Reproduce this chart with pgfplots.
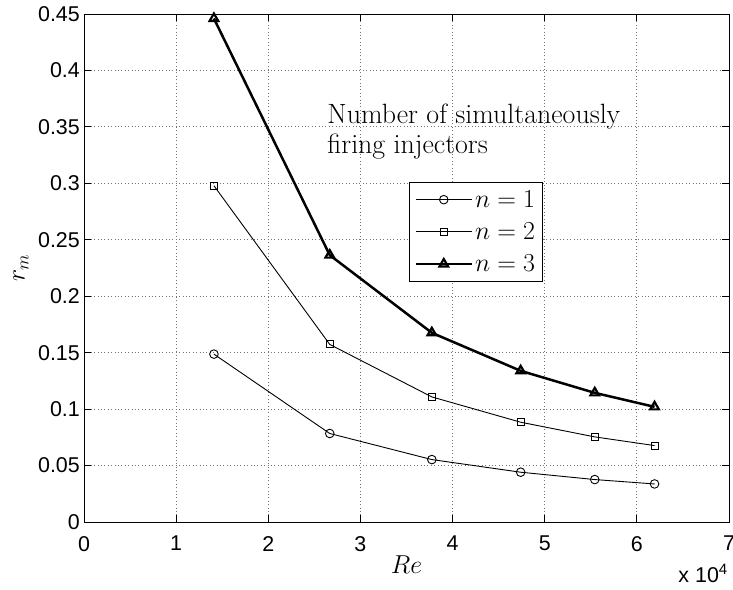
\RequirePackage{fix-cm}
\documentclass[border=0pt]{standalone}
\usepackage{fontspec}
\usepackage{pgfplots}
\pgfplotsset{compat=1.18}
\newfontfamily\hel{Liberation Sans}
\begin{document}
\begin{tikzpicture}
\useasboundingbox (-84bp,-68bp) rectangle (649bp,522bp);
\begin{axis}[
 scale only axis, width=645bp, height=508bp,
 at={(0,0)}, anchor=south west,
 clip=false,
 xmin=0,xmax=7,ymin=0,ymax=0.45,
 xtick={0,1,2,3,4,5,6,7}, xticklabels={0,1,2,3,4,5,6,7},
 ytick={0,0.05,0.1,0.15,0.2,0.25,0.3,0.35,0.4,0.45},
 yticklabels={0,0.05,0.1,0.15,0.2,0.25,0.3,0.35,0.4,0.45},
 tick align=inside,
 major tick length=7bp,
 tick style={black,line width=0.8bp},
 axis line style={black,line width=0.9bp},
 grid=major,
 major grid style={black!55, line width=0.8bp, dash pattern=on 0.8bp off 2.6bp},
 tick label style={font=\hel\fontsize{21.5}{22}\selectfont, inner sep=0pt},
 xticklabel style={yshift=-14bp},
 yticklabel style={xshift=-4bp},
 xlabel={$Re$}, ylabel={$r_m$},
 label style={font=\fontsize{26}{26}\selectfont, inner sep=0pt},
 xlabel style={at={(rel axis cs:0.5,0)},anchor=base, yshift=-51bp},
 ylabel style={at={([xshift=-63bp]rel axis cs:0,0.5)},anchor=center},
 legend style={at={(0.504,0.669)}, anchor=north west, draw=black, line width=0.9bp,
   font=\fontsize{26}{26}\selectfont, inner xsep=5bp, inner ysep=6bp, row sep=10bp,
   cells={anchor=west}},
 legend image code/.code={\draw[mark repeat=2,mark phase=2] plot coordinates {(0bp,0bp) (28bp,0bp) (56bp,0bp)};},
]
\addplot[black, line width=0.9bp, mark=o, mark size=4.3bp, mark options={solid,line width=0.9bp}] coordinates {
 (1.410,0.1487) (2.667,0.0784) (3.775,0.0553) (4.739,0.0441) (5.543,0.0376) (6.192,0.0337)};
\addlegendentry{$n=1$}
\addplot[black, line width=0.9bp, mark=square, mark size=3.5bp, mark options={solid,line width=0.9bp}] coordinates {
 (1.410,0.2979) (2.667,0.1573) (3.775,0.1108) (4.739,0.0884) (5.543,0.0754) (6.192,0.0677)};
\addlegendentry{$n=2$}
\addplot[black, line width=2.5bp, mark=triangle, mark size=5bp, mark options={solid,line width=2.2bp}] coordinates {
 (1.410,0.4460) (2.667,0.2364) (3.775,0.1676) (4.739,0.1339) (5.543,0.1144) (6.192,0.1020)};
\addlegendentry{$n=3$}
\node[anchor=base west, inner sep=0pt, font=\fontsize{28}{30}\selectfont] at (axis cs:2.64,0.3526) {Number of simultaneously};
\node[anchor=base west, inner sep=0pt, font=\fontsize{28}{30}\selectfont] at (axis cs:2.64,0.3260) {firing injectors};
\node[anchor=base east, inner sep=0pt, xshift=-1bp, yshift=-60bp, font=\hel\fontsize{21.5}{22}\selectfont] at (rel axis cs:1,0) {x 10\textsuperscript{4}};
\end{axis}
\end{tikzpicture}
\end{document}
